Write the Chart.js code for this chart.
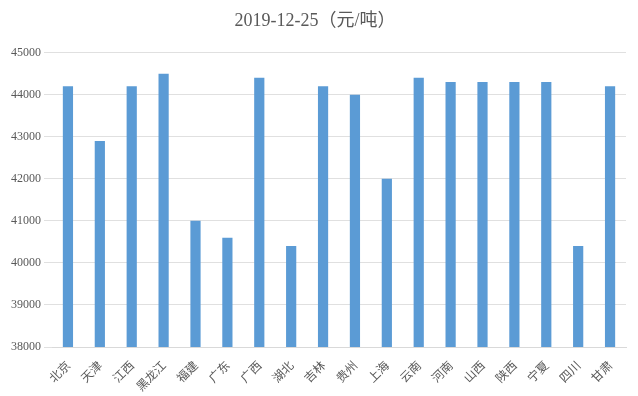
<!DOCTYPE html>
<html>
<head>
<meta charset="utf-8">
<script src="https://cdn.jsdelivr.net/npm/chart.js@4/dist/chart.umd.min.js"></script>
<style>
  html, body { margin: 0; padding: 0; background: #fff; }
  #wrap { width: 638px; height: 396px; }
</style>
</head>
<body>
<div id="wrap"><canvas id="chart" width="638" height="396"></canvas></div>
<script>
const categories = ['北京', '天津', '江西', '黑龙江', '福建', '广东', '广西', '湖北', '吉林', '贵州',
  '上海', '云南', '河南', '山西', '陕西', '宁夏', '四川', '甘肃'];
const prices = [44200, 42900, 44200, 44500, 41000, 40600, 44400, 40400, 44200, 44000,
  42000, 44400, 44300, 44300, 44300, 44300, 40400, 44200];
const yMin = 38000;
const yMax = 45000;
const yStep = 1000;

const font = "'Liberation Serif', 'Noto Sans CJK SC', serif";

new Chart(document.getElementById('chart'), {
  type: 'bar',
  data: {
    labels: categories,
    datasets: [{
      label: '价格',
      data: prices,
      backgroundColor: '#5B9BD5',
      barPercentage: 0.32,
      categoryPercentage: 1.0
    }]
  },
  options: {
    responsive: false,
    animation: false,
    layout: { padding: { left: 4, right: 12, top: 8, bottom: 0 } },
    plugins: {
      legend: { display: false },
      tooltip: { enabled: false },
      title: {
        display: true,
        text: '2019-12-25（元/吨）',
        color: '#595959',
        font: { family: font, size: 18, weight: 'normal' },
        padding: { top: 2, bottom: 21 }
      }
    },
    scales: {
      x: {
        grid: { display: false },
        border: { color: '#d9d9d9' },
        afterFit: (axis) => { axis.height = 49; },
        ticks: {
          color: '#595959',
          font: { family: "'Noto Sans CJK SC', sans-serif", size: 12 },
          maxRotation: 45,
          minRotation: 45,
          autoSkip: false
        }
      },
      y: {
        min: yMin,
        max: yMax,
        afterFit: (axis) => { axis.width = 48; },
        grid: { color: '#e0e0e0' },
        border: { display: false },
        ticks: {
          stepSize: yStep,
          color: '#595959',
          font: { family: font, size: 12 },
          callback: (v) => String(v)
        }
      }
    }
  }
});
</script>
</body>
</html>
